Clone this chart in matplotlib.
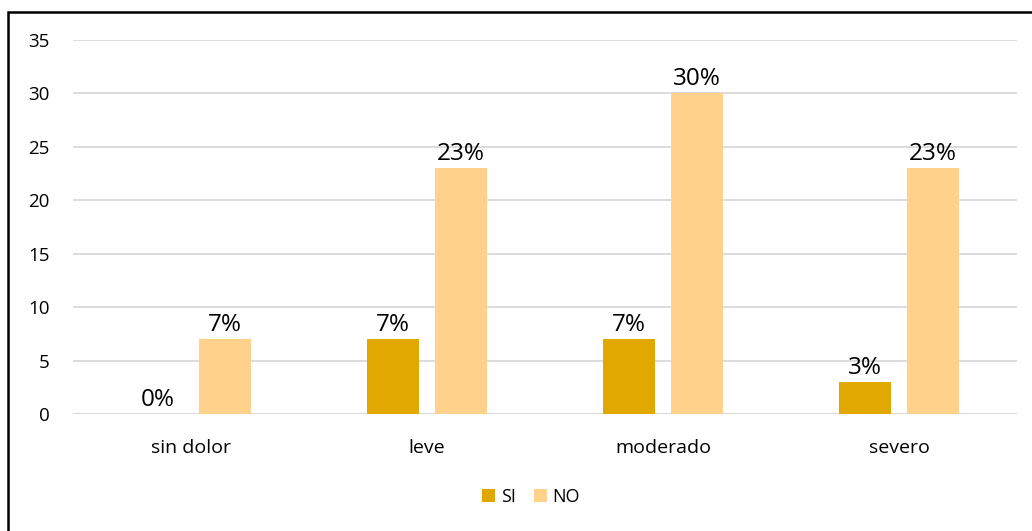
import matplotlib
matplotlib.use("Agg")
import matplotlib.pyplot as plt
from matplotlib.patches import Rectangle
import numpy as np

categories = ["sin dolor", "leve", "moderado", "severo"]
si_values = [0, 7, 7, 3]
no_values = [7, 23, 30, 23]
y_ticks = [0, 5, 10, 15, 20, 25, 30, 35]

si_color = "#E0A800"
no_color = "#FFD18A"
grid_color = "#D9D9D9"

plt.rcParams["font.family"] = ["Open Sans", "DejaVu Sans"]

fig = plt.figure(figsize=(10.32, 5.31), dpi=100)
ax = fig.add_axes([73 / 1032, 1 - 414 / 531, (1017 - 73) / 1032, (414 - 40) / 531])

x = np.arange(len(categories))
width = 0.22
offset = 0.143

bars_si = ax.bar(x - offset, si_values, width, color=si_color, label="SI", zorder=3)
bars_no = ax.bar(x + offset, no_values, width, color=no_color, label="NO", zorder=3)

# percentage labels above each bar
for bars, vals in ((bars_si, si_values), (bars_no, no_values)):
    for b, v in zip(bars, vals):
        ax.annotate(f"{v}%", (b.get_x() + b.get_width() / 2, v),
                    xytext=(0, 6), textcoords="offset points",
                    ha="center", va="baseline", fontsize=17.5, color="#000000")

ax.set_xlim(-0.5, len(categories) - 0.5)
ax.set_ylim(0, 35)
ax.set_yticks(y_ticks)
ax.set_xticks(x)
ax.set_xticklabels(categories)
ax.tick_params(axis="y", length=0, pad=17, labelsize=13.5)
ax.tick_params(axis="x", length=0, pad=18, labelsize=14)
ax.yaxis.grid(True, color=grid_color, linewidth=1.3, zorder=0)
for s in ax.spines.values():
    s.set_visible(False)
ax.axhline(0, color=grid_color, linewidth=1.3, zorder=2)

ax.legend(loc="center", bbox_to_anchor=(531 / 1032, 1 - 497 / 531),
          bbox_transform=fig.transFigure, ncol=2, frameon=False,
          fontsize=13, handlelength=0.75, handleheight=0.75,
          handletextpad=0.3, columnspacing=1.0)

# outer frame around the chart
fig.patches.append(Rectangle((8 / 1032, -0.05), 1.2, 0.05 + (531 - 12) / 531,
                             transform=fig.transFigure, fill=False,
                             edgecolor="black", linewidth=1.8))

fig.savefig("out.png", dpi=100)
